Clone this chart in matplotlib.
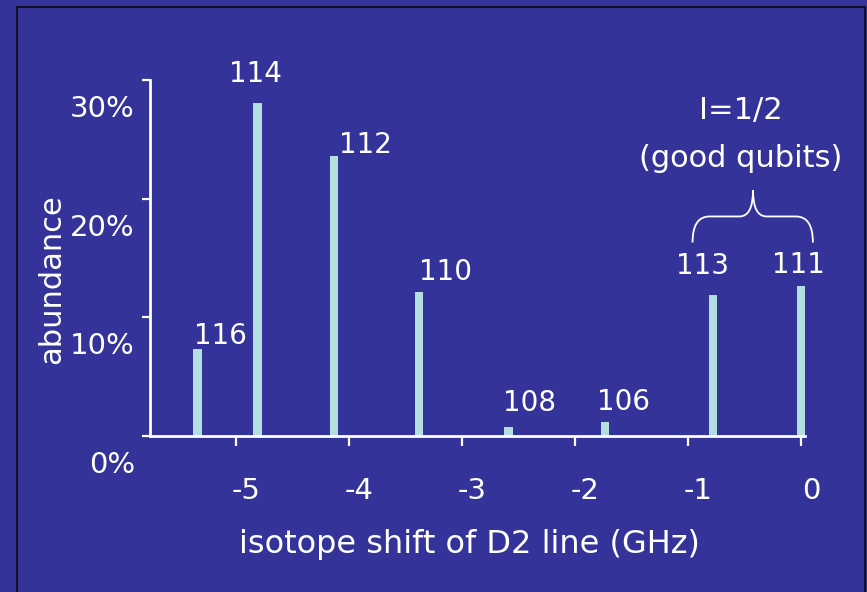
import matplotlib
matplotlib.use("Agg")
import matplotlib.pyplot as plt
from matplotlib.patches import Rectangle, PathPatch
from matplotlib.path import Path
from matplotlib.transforms import ScaledTranslation

# Cd isotopes: shift of the D2 line (GHz) and natural abundance (%)
isotopes = ['116', '114', '112', '110', '108', '106', '113', '111']
shift_ghz = [-5.34, -4.81, -4.13, -3.38, -2.59, -1.735, -0.78, 0.0]
abundance = [7.3, 28.1, 23.6, 12.1, 0.8, 1.2, 11.9, 12.6]

xticks = [-5, -4, -3, -2, -1, 0]
xtick_labels = ['-5', '-4', '-3', '-2', '-1', '0']
yticks = [0, 10, 20, 30]
ytick_labels = ['0%', '10%', '20%', '30%']

# label offsets from the top of each bar (pixels)
label_dx = [23, -2, 31, 26, 21, 19, -10, -3]
label_dy = [13, 29, 11, 20, 24, 20, 29, 21]

BG = '#333399'
BAR = '#B4DFE0'
W, H = 867, 592

fig = plt.figure(figsize=(W / 100, H / 100), dpi=100, facecolor=BG)
ax = fig.add_axes([150 / W, 1 - 436 / H, 655 / W, 356 / H])
ax.set_facecolor(BG)

ax.bar(shift_ghz, abundance, width=0.075, color=BAR, zorder=2)

for x, y, name, dx, dy in zip(shift_ghz, abundance, isotopes, label_dx, label_dy):
    ax.annotate(name, (x, y), xytext=(dx, dy), textcoords='offset pixels',
                ha='center', va='center', color='white', fontsize=20)

ax.set_xlim(-5.76, 0.035)
ax.set_ylim(0, 30)

for s in ['top', 'right']:
    ax.spines[s].set_visible(False)
for s in ['left', 'bottom']:
    ax.spines[s].set_color('white')
    ax.spines[s].set_linewidth(2)
    ax.spines[s].set_zorder(3)

ax.set_xticks(xticks)
ax.set_xticklabels(xtick_labels)
ax.set_yticks(yticks)
ax.set_yticklabels(ytick_labels)
ax.tick_params(axis='x', colors='white', length=7.2, width=1.6, pad=22, labelsize=21)
ax.tick_params(axis='y', colors='white', length=5.8, width=1.6, pad=5, labelsize=21)

# the slide has its tick labels shifted off the ticks
for lab in ax.get_xticklabels():
    lab.set_transform(lab.get_transform() + ScaledTranslation(0.10, 0, fig.dpi_scale_trans))
for lab in ax.get_yticklabels():
    lab.set_transform(lab.get_transform() + ScaledTranslation(0, -0.26, fig.dpi_scale_trans))

fig.text(469 / W, 1 - 545 / H, 'isotope shift of D2 line (GHz)', color='white',
         fontsize=23, ha='center', va='center')
fig.text(52 / W, 1 - 279 / H, 'abundance', color='white', fontsize=22,
         ha='center', va='center', rotation=90)

# brace over the two I=1/2 isotopes
x0, x1, xt = -0.96, 0.105, -0.425
yb, ym, yt = 16.3, 18.5, 20.7
verts = [(x0, yb), (x0, ym), (x0 + 0.15, ym),
         (xt - 0.12, ym),
         (xt, ym), (xt, yt),
         (xt, ym), (xt + 0.12, ym),
         (x1 - 0.15, ym),
         (x1, ym), (x1, yb)]
codes = [Path.MOVETO, Path.CURVE3, Path.CURVE3,
         Path.LINETO,
         Path.CURVE3, Path.CURVE3,
         Path.CURVE3, Path.CURVE3,
         Path.LINETO,
         Path.CURVE3, Path.CURVE3]
ax.add_patch(PathPatch(Path(verts, codes), facecolor='none', edgecolor='white',
                       lw=1.3, clip_on=False))
ax.text(-0.53, 27.4, 'I=1/2', color='white', fontsize=22, ha='center', va='center')
ax.text(-0.53, 23.4, '(good qubits)', color='white', fontsize=22, ha='center', va='center')

# slide frame
fig.patches.append(Rectangle((17 / W, -0.05), (865 - 17) / W, 1.05 - 7 / H,
                             transform=fig.transFigure, fill=False,
                             edgecolor='#111122', lw=1.5))

fig.savefig('out.png', dpi=100, facecolor=BG)
